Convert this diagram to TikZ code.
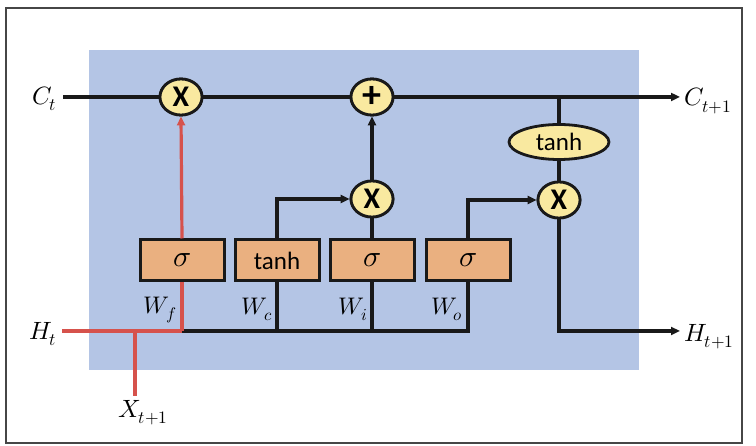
\documentclass[tikz,border=0pt]{standalone}
\usepackage{fontspec}
\usepackage{unicode-math}
\setmathfont{Latin Modern Math}
\setsansfont{Carlito}
\usetikzlibrary{arrows.meta,shapes.geometric}
\definecolor{cellblue}{RGB}{180,197,229}
\definecolor{opyellow}{RGB}{249,233,160}
\definecolor{boxorange}{RGB}{234,176,128}
\definecolor{wirered}{RGB}{214,82,76}
\definecolor{framegray}{RGB}{70,70,70}
\tikzset{
  wire/.style={line width=3.2pt, black!90},
  redwire/.style={line width=3.2pt, wirered},
  tip/.style={-{Triangle[length=9pt,width=8pt]}},
  op/.style={ellipse, draw=black!90, line width=2.8pt, fill=opyellow, minimum width=42pt, minimum height=36pt, inner sep=0pt, font=\sffamily\bfseries\fontsize{30}{32}\selectfont},
  act/.style={ellipse, draw=black!90, line width=2.8pt, fill=opyellow, minimum width=100pt, minimum height=35pt, inner sep=0pt, font=\sffamily\fontsize{25}{27}\selectfont},
  gatebox/.style={rectangle, draw=black!90, line width=3pt, fill=boxorange, minimum width=84pt, minimum height=41pt, inner sep=0pt, font=\sffamily\fontsize{25}{27}\selectfont},
  lbl/.style={inner sep=0pt, font=\fontsize{25}{27}\selectfont},
  wlbl/.style={inner sep=0pt, anchor=east, font=\fontsize{24}{26}\selectfont},
}
\newcommand{\bigplus}{\raisebox{1pt}{\fontsize{38}{40}\selectfont +}}
\begin{document}
\begin{tikzpicture}[x=1pt,y=-1pt]
\useasboundingbox (0,0) rectangle (756,446);
\draw[line width=1.8pt, framegray] (6,8) rectangle (742,443);
\fill[cellblue] (89,50) rectangle (639,370);

% operators
\node[op] (mulf) at (181,97) {X};
\node[op] (plus) at (372,97) {\bigplus};
\node[op] (muli) at (372,199) {X};
\node[act] (tanhC) at (559,142) {tanh};
\node[op] (mulo) at (559,200) {X};

% gate boxes
\node[gatebox] (bf) at (182,260.5) {\fontsize{30}{32}\selectfont$\sigma$};
\node[gatebox] (bc) at (277,260.5) {tanh};
\node[gatebox] (bi) at (372,260.5) {\fontsize{30}{32}\selectfont$\sigma$};
\node[gatebox] (bo) at (468,260.5) {\fontsize{30}{32}\selectfont$\sigma$};

% labels
\node[lbl, anchor=east] (Ct) at (57,99) {$C_t$};
\node[lbl, anchor=west] (Ct1) at (684,101) {$C_{t+1}$};
\node[lbl, anchor=east] (Ht) at (57,334) {$H_t$};
\node[lbl, anchor=west] (Ht1) at (684,337) {$H_{t+1}$};
\node[lbl] (Xt1) at (143,413) {$X_{t+1}$};
\node[wlbl] (Wf) at (177,310) {$W_f$};
\node[wlbl] (Wc) at (273,309) {$W_c$};
\node[wlbl] (Wi) at (368,309) {$W_i$};
\node[wlbl] (Wo) at (463,309) {$W_o$};

% coordinates
\coordinate (cin) at (63,97);
\coordinate (cout) at (680,97);
\coordinate (cjunc) at (559,97);
\coordinate (hin) at (62,331);
\coordinate (hjunc) at (182,331);
\coordinate (xjunc) at (135,331);
\coordinate (xin) at (135,396);
\coordinate (hout) at (680,331);

% cell state line
\draw[wire] (cin) -- (mulf);
\draw[wire] (mulf) -- (plus);
\draw[wire, tip] (plus) -- (cout);
\draw[wire] (cjunc) -- (tanhC);
\draw[wire] (tanhC) -- (mulo);
\draw[wire, tip] (mulo.south) |- (hout);

% gate connections
\draw[wire, tip] (muli) -- (plus);
\draw[wire] (bi.north) -- (muli);
\draw[wire, tip] (bc.north) |- (muli.west);
\draw[wire, tip] (bo.north) |- (mulo.west);

% hidden input bus
\draw[wire] (hjunc) -- (bo.south |- hjunc) -- (bo.south);
\draw[wire] (bc.south) -- (bc.south |- hjunc);
\draw[wire] (bi.south) -- (bi.south |- hjunc);

% red path (forget gate)
\draw[redwire] (hin) -- (hjunc);
\draw[redwire] (xjunc) -- (xin);
\draw[redwire] (hjunc) -- (bf.south);
\draw[redwire, tip] (bf.north) -- (mulf.south);

% redraw nodes on top
\node[op] at (mulf) {X};
\node[op] at (plus) {\bigplus};
\node[op] at (muli) {X};
\node[op] at (mulo) {X};
\end{tikzpicture}
\end{document}
